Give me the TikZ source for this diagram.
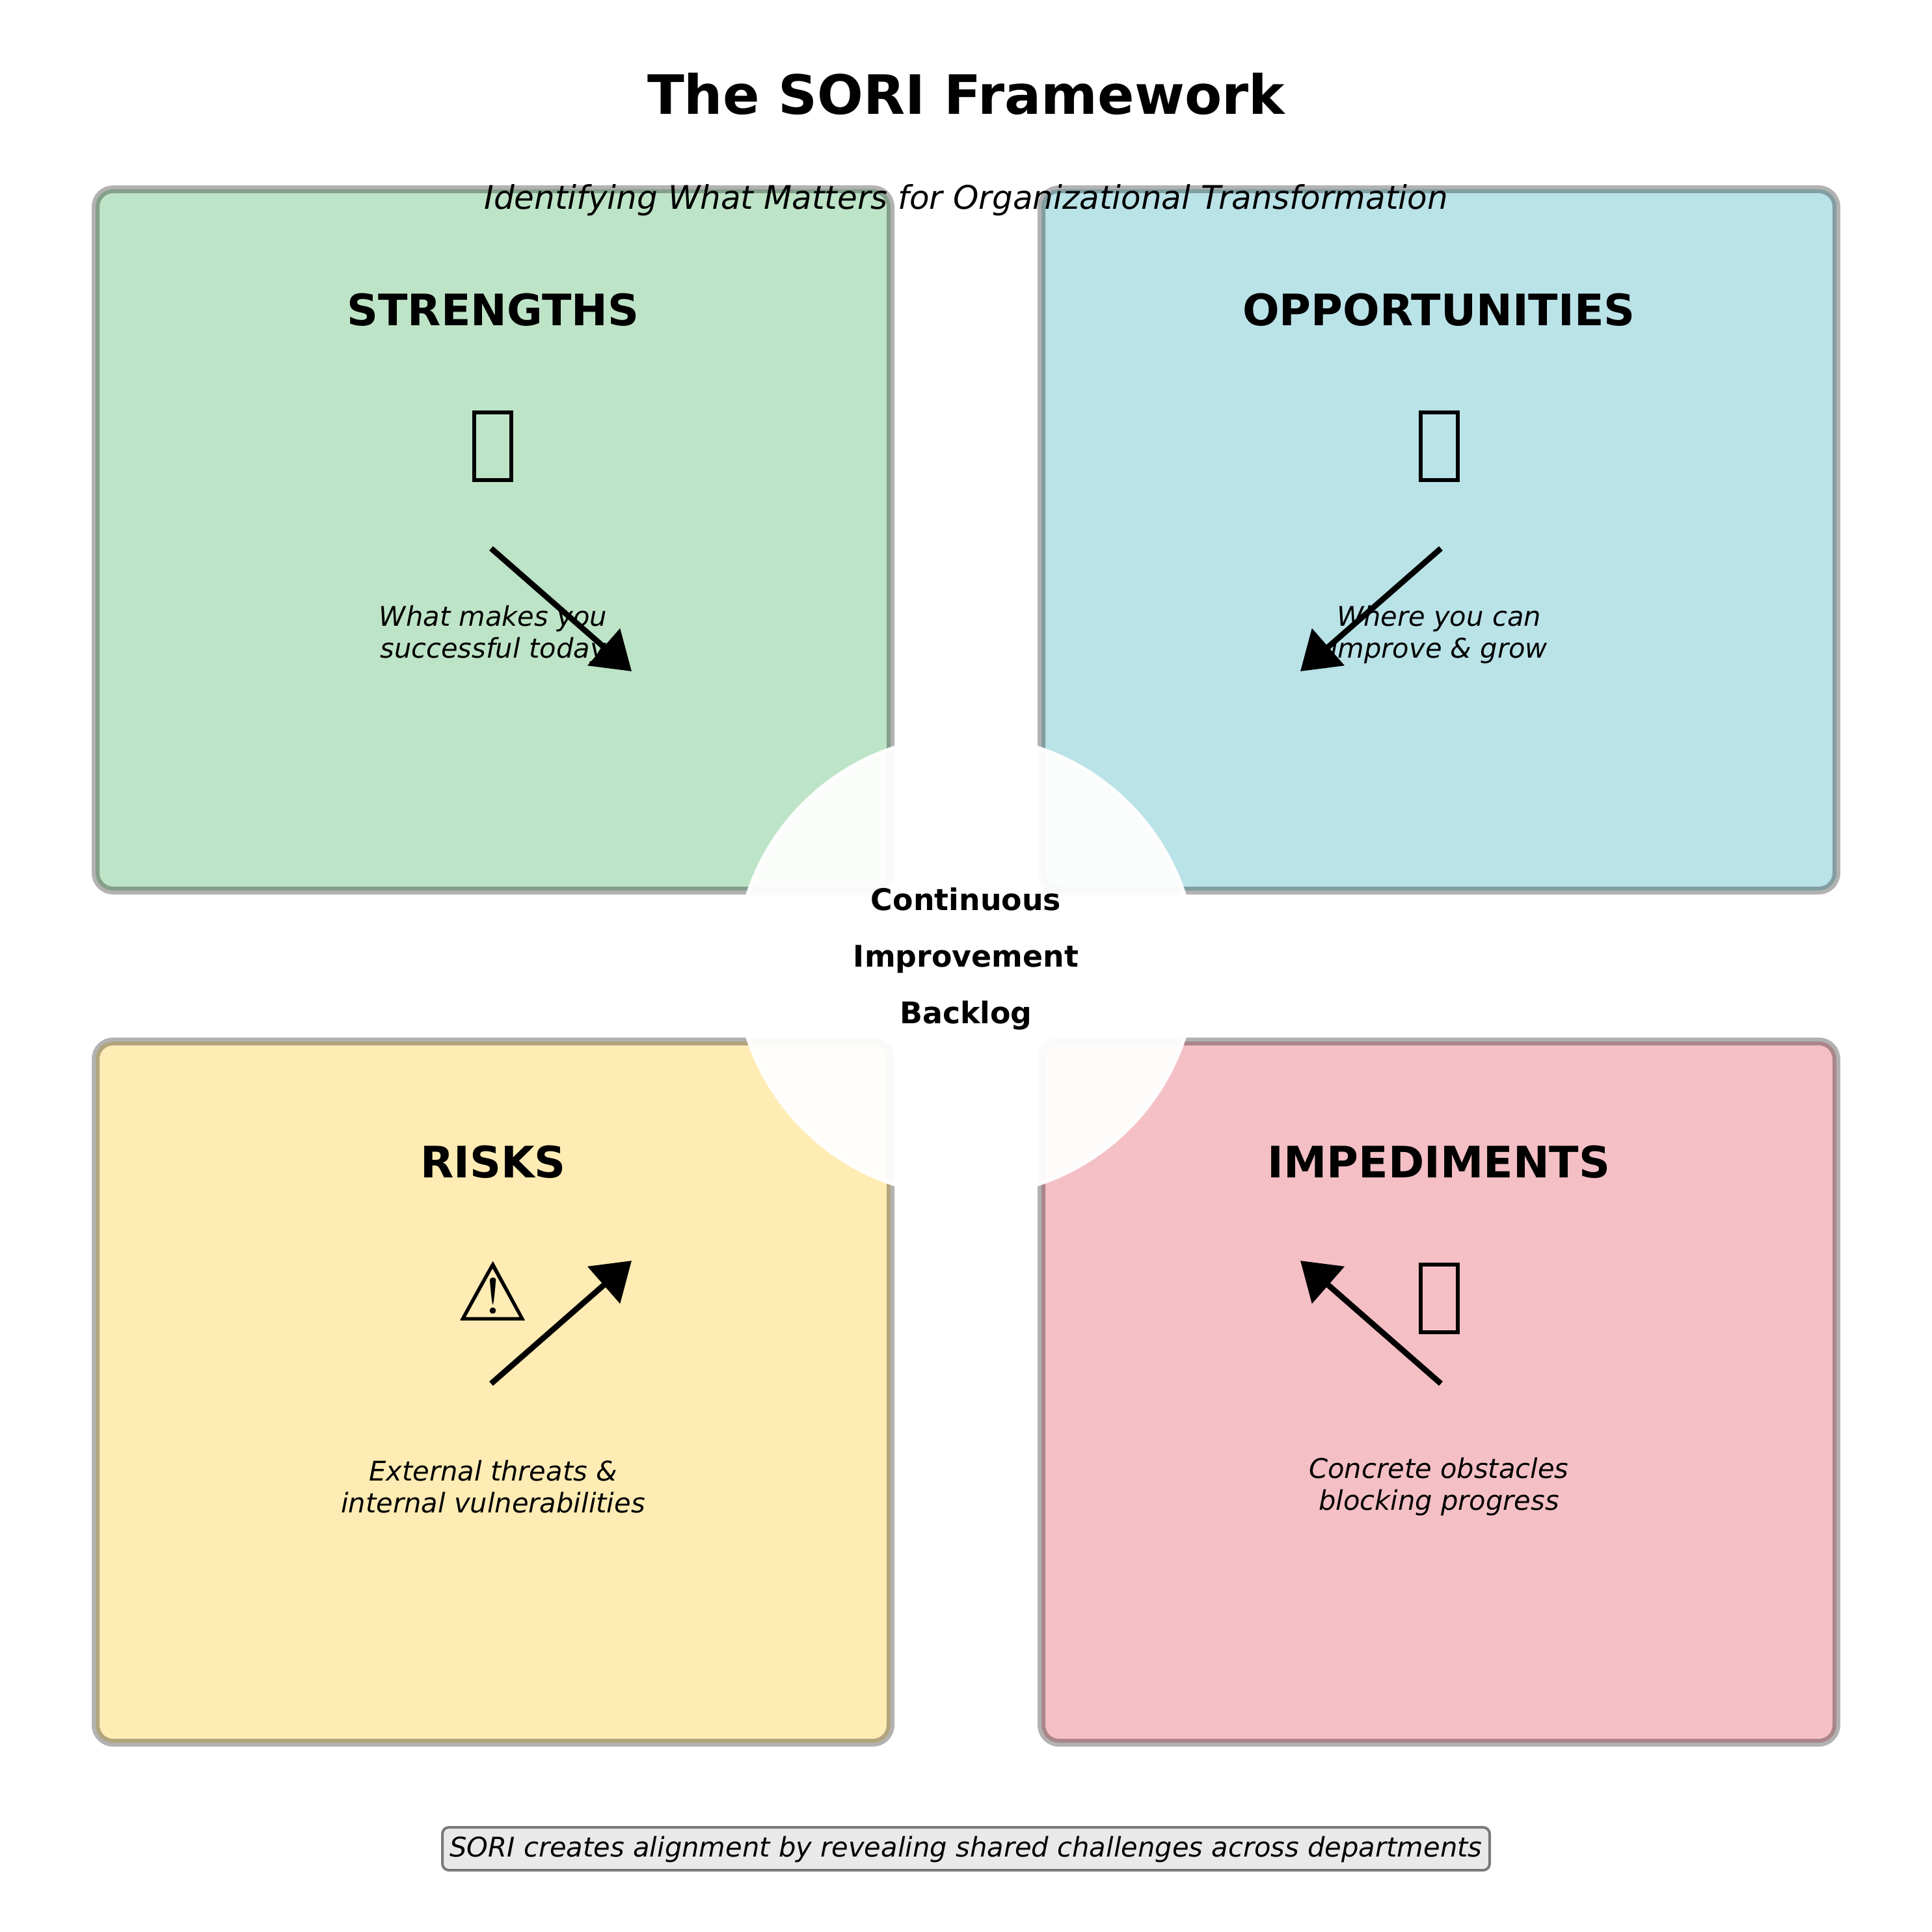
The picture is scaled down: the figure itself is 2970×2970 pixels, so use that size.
\documentclass[tikz,border=0pt]{standalone}
\usepackage{fontspec}
\setmainfont{DejaVu Sans}
\usetikzlibrary{arrows.meta}
\newcommand{\px}{0.24bp}
\definecolor{cgreen}{HTML}{28A745}
\definecolor{cblue}{HTML}{1BA2B4}
\definecolor{cyellow}{HTML}{FFC107}
\definecolor{cred}{HTML}{DC3040}
\definecolor{footfill}{HTML}{D3D3D3}
\tikzset{
  x=0.24bp, y=-0.24bp,
  panelfill/.style={fill=#1, fill opacity=0.3, draw=none},
  panelline/.style={draw=black, draw opacity=0.3, line width=12*\px, fill=none},
  rc/.style={rounded corners=27*\px},
  titletext/.style={inner sep=0pt, anchor=base, font=\fontsize{20bp}{24bp}\selectfont\bfseries},
  subtext/.style={inner sep=0pt, anchor=base, font=\fontsize{12bp}{14bp}\selectfont\itshape},
  headtext/.style={inner sep=0pt, anchor=base, font=\fontsize{16bp}{19bp}\selectfont\bfseries},
  desctext/.style={inner sep=0pt, anchor=center, align=center, font=\fontsize{10bp}{11.76bp}\selectfont\itshape},
  centertext/.style={inner sep=0pt, anchor=center, align=center, font=\fontsize{11bp}{20.88bp}\selectfont\bfseries},
  tofu/.style={draw=black, line width=6*\px, minimum width=57*\px, minimum height=104*\px, inner sep=0pt, fill=none},
  warn/.style={inner sep=0pt, anchor=center, font=\fontsize{30bp}{36bp}\selectfont},
  flow/.style={draw=black, line width=8.8*\px, -{Triangle[length=57*\px, width=74*\px]}},
  foot/.style={inner sep=0pt, anchor=base, font=\fontsize{10bp}{12bp}\selectfont\itshape},
}
\begin{document}
\begin{tikzpicture}
\useasboundingbox (0,0) rectangle (2970,2970);
% panels
\foreach \xa/\ya/\xb/\yb/\c in {147/291/1369/1369/cgreen, 1601/291/2823/1369/cblue, 147/1601/1369/2679/cyellow, 1601/1601/2823/2679/cred}{
  \path[panelfill=\c, rc] (\xa,\ya) rectangle (\xb,\yb);
  \path[panelline, rc] (\xa,\ya) rectangle (\xb,\yb);
}
% headers
\node[titletext] (title) at (1485,176) {The SORI Framework};
\node[subtext] (subtitle) at (1485,322) {Identifying What Matters for Organizational Transformation};
\node[headtext] (hs) at (758,500) {STRENGTHS};
\node[headtext] (ho) at (2212,500) {OPPORTUNITIES};
\node[headtext] (hr) at (758,1810) {RISKS};
\node[headtext] (hi) at (2212,1810) {IMPEDIMENTS};
% icons
\node[tofu] (is) at (757.5,686) {};
\node[tofu] (io) at (2212,686) {};
\node[warn] (ir) at (758,1985) {⚠};
\node[tofu] (ii) at (2212,1996) {};
% descriptions
\node[desctext] (ds) at (758,975.5) {What makes you\\successful today};
\node[desctext] (do) at (2212,975.5) {Where you can\\improve \& grow};
\node[desctext] (dr) at (758,2285.5) {External threats \&\\internal vulnerabilities};
\node[desctext] (di) at (2212,2285.5) {Concrete obstacles\\blocking progress};
% arrows
\coordinate (s1) at (755,843); \coordinate (t1) at (971,1032);
\coordinate (s2) at (2215,843); \coordinate (t2) at (1999,1032);
\coordinate (s3) at (755,2127); \coordinate (t3) at (971,1938);
\coordinate (s4) at (2215,2127); \coordinate (t4) at (1999,1938);
\draw[flow] (s1) -- (t1);
\draw[flow] (s2) -- (t2);
\draw[flow] (s3) -- (t3);
\draw[flow] (s4) -- (t4);
% centre
\path[fill=white, fill opacity=0.95] (1485,1485) circle[radius=353];
\path[draw=white, draw opacity=0.95, line width=6*\px] (1485,1485) circle[radius=353];
\node[centertext] (core) at (1485,1474) {Continuous\\Improvement\\Backlog};
% footer
\path[fill=footfill, fill opacity=0.5, rounded corners=10*\px] (680,2809) rectangle (2290,2875);
\path[draw=black, draw opacity=0.5, line width=4*\px, rounded corners=10*\px] (680,2809) rectangle (2290,2875);
\node[foot] (fn) at (1485,2854) {SORI creates alignment by revealing shared challenges across departments};
\end{tikzpicture}
\end{document}
